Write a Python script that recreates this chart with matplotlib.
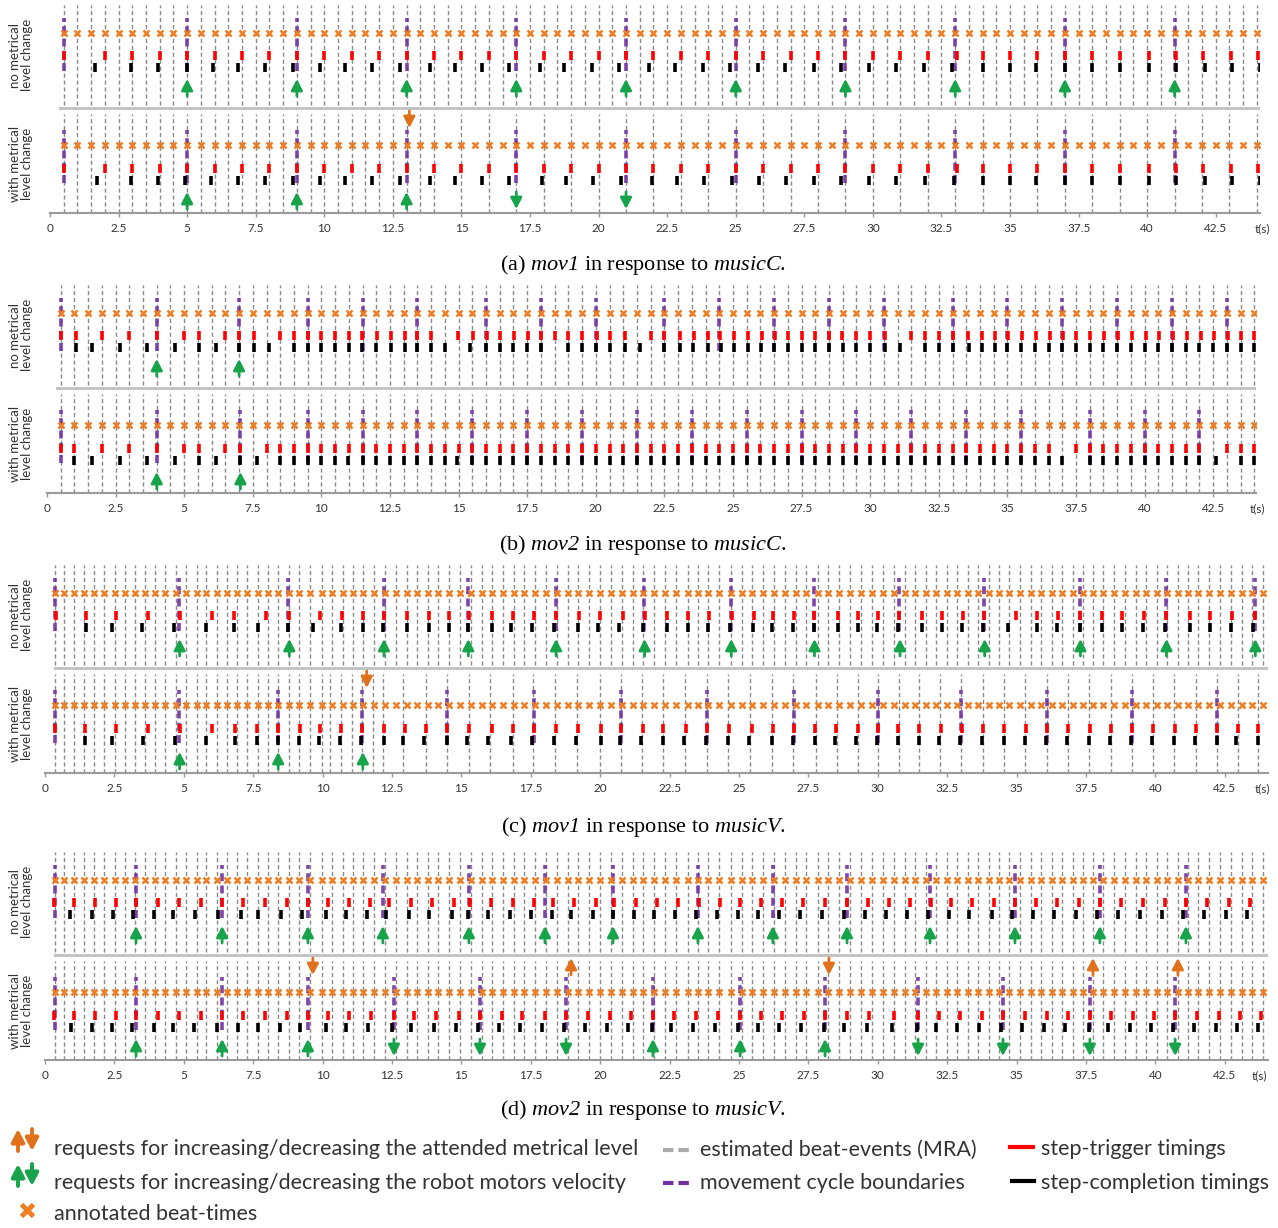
"""Beat tracking / robot stepping timelines for mov1 and mov2 (recreated figure)."""

import matplotlib
matplotlib.use("Agg")
import matplotlib.pyplot as plt

W, H = 1278, 1228
DPI = 100

plt.rcParams["font.family"] = ["Lato", "DejaVu Sans"]
# captions: the $...$ parts (mov1, musicC, ...) are set fully in italic serif
plt.rcParams["mathtext.fontset"] = "custom"
plt.rcParams["mathtext.rm"] = "Liberation Serif:italic"
plt.rcParams["mathtext.it"] = "Liberation Serif:italic"

GRAY = "#8a8a8a"
PURPLE = "#7030a0"
ORANGE_X = "#ef7d22"
ORANGE_ARROW = "#e0701a"
GREEN = "#17a34a"
RED = "#ff0000"
TEXT = "#333333"

TICKS = [0, 2.5, 5, 7.5, 10, 12.5, 15, 17.5, 20, 22.5, 25, 27.5, 30, 32.5, 35, 37.5, 40, 42.5]
TICK_LABELS = ["0", "2.5", "5", "7.5", "10", "12.5", "15", "17.5", "20", "22.5", "25",
               "27.5", "30", "32.5", "35", "37.5", "40", "42.5"]

# ---------------------------------------------------------------- data
# annotated beat-times (orange crosses)
MUSIC_C_BEATS = [0.5, 1.0, 1.5, 2.0, 2.5, 3.0, 3.5, 4.0, 4.5, 5.0, 5.5, 6.0, 6.5, 7.0, 7.5,
                 8.0, 8.5, 9.0, 9.5, 10.0, 10.5, 11.0, 11.5, 12.0, 12.5, 13.0, 13.5, 14.0,
                 14.5, 15.0, 15.5, 16.0, 16.5, 17.0, 17.5, 18.0, 18.5, 19.0, 19.5, 20.0, 20.5,
                 21.0, 21.5, 22.0, 22.5, 23.0, 23.5, 24.0, 24.5, 25.0, 25.5, 26.0, 26.5, 27.0,
                 27.5, 28.0, 28.5, 29.0, 29.5, 30.0, 30.5, 31.0, 31.5, 32.0, 32.5, 33.0, 33.5,
                 34.0, 34.5, 35.0, 35.5, 36.0, 36.5, 37.0, 37.5, 38.0, 38.5, 39.0, 39.5, 40.0,
                 40.5, 41.0, 41.5, 42.0, 42.5, 43.0, 43.5, 44.0]
MUSIC_V_BEATS = [0.36, 0.70, 1.04, 1.40, 1.78, 2.14, 2.52, 2.89, 3.25, 3.61, 3.96, 4.31, 4.71,
                 5.08, 5.46, 5.80, 6.18, 6.54, 6.93, 7.29, 7.68, 8.04, 8.40, 8.79, 9.16, 9.55,
                 9.97, 10.33, 10.72, 11.11, 11.47, 11.86, 12.25, 12.64, 13.03, 13.39, 13.78,
                 14.17, 14.57, 14.95, 15.35, 15.73, 16.09, 16.49, 16.89, 17.27, 17.65, 18.05,
                 18.43, 18.83, 19.21, 19.61, 19.99, 20.39, 20.77, 21.17, 21.55, 21.95, 22.33,
                 22.73, 23.15, 23.54, 23.90, 24.29, 24.70, 25.10, 25.48, 25.88, 26.26, 26.66,
                 27.05, 27.41, 27.86, 28.22, 28.61, 29.00, 29.38, 29.78, 30.18, 30.58, 30.98,
                 31.34, 31.72, 32.10, 32.48, 32.86, 33.24, 33.60, 34.01, 34.38, 34.74, 35.12,
                 35.51, 35.88, 36.26, 36.65, 37.02, 37.38, 37.74, 38.12, 38.51, 38.90, 39.29,
                 39.66, 40.05, 40.43, 40.80, 41.16, 41.55, 41.94, 42.33, 42.71, 43.11, 43.49,
                 43.86]

# (a) mov1 / musicC
A_GRAY_BOT = [0.5, 1.0, 1.5, 2.0, 2.5, 3.0, 3.5, 4.0, 4.5, 5.0, 5.5, 6.0, 6.5, 7.0, 7.5, 8.0,
              8.5, 9.0, 9.5, 10.0, 10.5, 11.0, 11.5, 12.0, 12.5, 13.0, 13.5, 14.0, 15.0, 16.0,
              17.0, 18.0, 19.0, 20.0, 21.0, 22.0, 23.0, 24.0, 25.0, 26.0, 27.0, 28.0, 29.0,
              30.0, 31.0, 32.0, 33.0, 34.0, 35.0, 36.0, 37.0, 38.0, 39.0, 40.0, 41.0, 42.0,
              43.0, 44.0]
A_CYCLES = [0.5, 5.0, 9.0, 13.0, 17.0, 21.0, 25.0, 29.0, 33.0, 37.0, 41.0]
A_TRIG = [0.5, 2.0, 3.0, 4.0, 5.0, 6.0, 7.0, 8.0, 9.0, 10.0, 11.0, 12.0, 13.0, 14.0, 15.0,
          16.0, 17.0, 18.0, 19.0, 20.0, 21.0, 22.0, 23.0, 24.0, 25.0, 26.0, 27.0, 28.0, 29.0,
          30.0, 31.0, 32.0, 33.05, 34.0, 35.0, 36.0, 37.0, 38.0, 39.0, 40.05, 41.05, 42.05,
          43.05, 44.05]
A_DONE_TOP = [1.65, 2.95, 3.95, 5.0, 5.95, 6.85, 7.85, 8.85, 9.85, 10.75, 11.75, 12.75, 13.85,
              14.75, 15.75, 16.75, 17.85, 18.75, 19.75, 20.75, 21.85, 22.8, 23.8, 24.8, 25.8,
              26.8, 27.85, 28.85, 29.85, 30.85, 31.85, 32.9, 34.0, 35.0, 35.95, 37.0, 38.0,
              39.0, 40.05, 41.05, 42.1, 43.1, 44.1]
A_DONE_BOT = [1.7, 2.95, 3.95, 4.93, 5.87, 6.85, 7.85, 8.85, 9.85, 10.75, 11.75, 12.75, 13.85,
              14.75, 15.75, 16.75, 17.95, 18.8, 19.8, 20.8, 21.95, 22.85, 23.85, 24.85, 25.85,
              26.85, 27.85, 28.85, 29.85, 30.85, 31.9, 32.95, 34.0, 35.0, 35.95, 37.0, 38.0,
              39.0, 40.05, 41.05, 42.1, 43.1, 44.1]
A_VEL_UP_TOP = [5.0, 9.0, 13.0, 17.0, 21.0, 25.0, 29.0, 33.0, 37.0, 41.0]
A_VEL_UP_BOT = [5.0, 9.0, 13.0]
A_VEL_DOWN_BOT = [17.0, 21.0]
A_LVL_DOWN_BOT = [13.1]

# (b) mov2 / musicC
B_CYCLES_TOP = [0.5, 4.0, 7.0, 9.5, 11.5, 13.5, 16.0, 18.0, 20.0, 22.5, 24.5, 26.5, 28.5,
                30.5, 33.0, 35.0, 37.0, 39.0, 41.0, 43.0]
B_CYCLES_BOT = [0.5, 4.0, 7.05, 9.5, 11.5, 13.5, 15.5, 17.5, 19.5, 21.5, 23.5, 25.5, 27.5,
                29.5, 31.5, 33.5, 35.5, 38.0, 40.0, 42.0]
B_TRIG_TOP = [0.5, 1.05, 2.0, 3.0, 4.0, 5.0, 5.55, 6.5, 7.0, 7.55, 8.5, 9.0, 9.5, 10.0, 10.5,
              11.0, 11.49, 12.01, 12.52, 13.05, 13.5, 14.0, 14.99, 15.51, 16.02, 16.52, 17.02,
              17.52, 17.99, 18.51, 19.0, 19.5, 20.03, 20.52, 21.06, 22.0, 22.5, 23.07, 23.58,
              24.08, 24.53, 25.05, 25.53, 26.05, 26.53, 27.02, 27.5, 27.99, 28.5, 28.98, 29.48,
              29.99, 30.54, 31.49, 32.0, 32.51, 33.03, 33.58, 34.06, 34.55, 35.03, 35.54, 36.04,
              36.55, 37.01, 37.5, 38.01, 38.52, 39.02, 39.53, 40.04, 40.53, 41.02, 41.53,
              42.04, 42.54, 43.03, 43.51, 43.99]
B_DONE_TOP = [1.05, 1.65, 2.65, 3.65, 4.65, 5.55, 6.15, 7.0, 7.55, 8.1, 9.0, 9.5, 10.0, 10.5,
              11.0, 11.49, 12.0, 12.52, 13.05, 13.5, 14.0, 14.5, 15.4, 15.99, 16.52, 17.0,
              17.5, 18.0, 19.0, 19.5, 20.0, 20.5, 21.05, 21.6, 22.5, 23.07, 23.55, 24.08,
              24.55, 25.05, 25.53, 26.03, 26.5, 27.02, 27.5, 28.0, 28.5, 29.0, 29.5, 30.0,
              30.54, 31.1, 32.0, 32.5, 33.0, 33.6, 34.06, 34.55, 35.0, 35.5, 36.0, 36.5, 37.0,
              37.5, 38.0, 38.5, 39.0, 39.5, 40.0, 40.5, 41.0, 41.5, 42.0, 42.5, 43.0, 43.5, 44.0]
B_TRIG_BOT = [0.5, 1.0, 2.0, 3.0, 4.0, 5.0, 5.55, 6.5, 7.05, 8.0, 8.5, 9.0, 9.5, 10.0, 10.5,
              11.0, 11.5, 12.0, 12.5, 13.0, 13.47, 14.0, 14.5, 15.0, 15.5, 16.0, 16.5, 17.0,
              17.5, 18.0, 18.5, 19.0, 19.5, 20.0, 20.5, 21.0, 21.5, 22.0, 22.5, 23.0, 23.5,
              24.0, 24.5, 25.0, 25.5, 26.0, 26.5, 27.0, 27.5, 28.0, 28.5, 29.0, 29.5, 30.0,
              30.5, 31.0, 31.5, 32.0, 32.5, 33.0, 33.5, 34.0, 34.5, 35.0, 35.5, 36.0, 36.5,
              37.5, 38.0, 38.5, 39.0, 39.5, 40.0, 40.5, 41.0, 41.5, 42.0, 43.0, 43.5, 44.0]
B_DONE_BOT = [1.0, 1.65, 2.65, 3.65, 4.65, 5.55, 6.15, 7.05, 7.65, 8.5, 9.0, 9.5, 10.0, 10.5,
              10.96, 11.5, 12.0, 12.5, 13.0, 13.5, 14.0, 14.5, 14.95, 15.5, 16.0, 16.5, 17.0,
              17.5, 18.0, 18.5, 19.0, 19.5, 20.0, 20.5, 21.0, 21.5, 22.0, 22.5, 23.0, 23.5,
              24.0, 24.5, 25.0, 25.5, 26.0, 26.5, 27.0, 27.5, 28.0, 28.5, 29.0, 29.5, 30.0,
              30.5, 31.0, 31.5, 32.0, 32.5, 33.0, 33.5, 34.0, 34.5, 35.0, 35.5, 36.0, 36.5,
              37.0, 38.0, 38.5, 39.0, 39.5, 40.0, 40.5, 41.0, 41.5, 42.0, 42.6, 43.5, 44.0]
B_VEL_UP_TOP = [4.0, 7.0]
B_VEL_UP_BOT = [4.0, 7.05]

# (c) mov1 / musicV
C_GRAY_BOT = [0.36, 0.70, 1.04, 1.40, 1.78, 2.14, 2.52, 2.89, 3.25, 3.61, 3.96, 4.31, 4.71,
              5.08, 5.46, 5.80, 6.18, 6.54, 6.93, 7.29, 7.68, 8.04, 8.40, 8.79, 9.16, 9.55,
              9.97, 10.27, 10.65, 11.05, 11.43, 11.83, 12.19, 12.91, 13.72, 14.47, 15.27,
              16.03, 16.85, 17.59, 18.37, 19.15, 19.99, 20.75, 21.49, 22.27, 23.05, 23.84,
              24.62, 25.40, 26.18, 26.96, 27.76, 28.52, 29.27, 30.02, 30.78, 31.50, 32.24,
              33.00, 33.78, 34.56, 35.30, 36.08, 36.84, 37.62, 38.39, 39.15, 39.90, 40.67,
              41.46, 42.21, 42.96, 43.71]
C_CYCLES_TOP = [0.36, 4.83, 8.75, 12.21, 15.23, 18.41, 21.58, 24.7, 27.7, 30.78, 33.83, 37.28,
                40.38, 43.59]
C_CYCLES_BOT = [0.36, 4.83, 8.38, 11.43, 14.49, 17.6, 20.75, 23.84, 26.97, 30.02, 33.0, 36.08,
                39.15, 42.21]
C_TRIG_TOP = [0.4, 1.48, 2.56, 3.7, 4.86, 6.03, 6.81, 7.95, 8.79, 9.9, 10.69, 11.44, 12.21,
              13.03, 13.83, 14.55, 15.27, 16.09, 16.85, 17.63, 18.41, 19.24, 19.99, 20.81,
              21.61, 22.4, 23.17, 23.93, 24.76, 25.54, 26.24, 26.98, 27.71, 28.55, 29.28,
              30.02, 30.78, 31.59, 32.3, 33.06, 33.84, 34.97, 35.72, 36.48, 37.28, 38.09,
              38.81, 39.59, 40.38, 41.25, 41.97, 42.77, 43.59]
C_DONE_TOP = [1.48, 2.4, 3.48, 4.65, 5.8, 6.81, 7.66, 8.74, 9.67, 10.67, 11.44, 12.19, 13.03,
              13.83, 14.55, 15.25, 16.1, 16.78, 17.55, 18.35, 19.2, 19.93, 20.69, 21.55, 22.4,
              23.15, 23.9, 24.66, 25.51, 26.2, 26.93, 27.7, 28.55, 29.28, 29.98, 30.74, 31.59,
              32.3, 33.03, 33.8, 34.68, 35.72, 36.47, 37.28, 38.09, 38.81, 39.54, 40.34, 41.25,
              41.95, 42.73, 43.52]
C_TRIG_BOT = [0.36, 1.44, 2.56, 3.7, 4.86, 6.03, 6.85, 7.62, 8.4, 9.18, 9.9, 10.67, 11.43,
              12.22, 12.96, 13.72, 14.49, 15.27, 16.09, 16.87, 17.63, 18.41, 19.19, 20.03,
              20.75, 21.53, 22.28, 23.08, 23.84, 24.65, 25.47, 26.24, 26.98, 27.75, 28.5,
              29.28, 30.02, 30.74, 31.5, 32.28, 33.03, 33.78, 34.56, 35.34, 36.08, 36.86,
              37.64, 38.39, 39.16, 39.92, 40.7, 41.45, 42.21, 42.96, 43.71]
C_DONE_BOT = [1.44, 2.4, 3.54, 4.68, 5.8, 6.85, 7.62, 8.4, 9.16, 9.87, 10.64, 11.39, 12.22,
              12.9, 13.66, 14.47, 15.19, 15.97, 16.78, 17.56, 18.35, 19.12, 20.02, 20.72,
              21.47, 22.25, 23.03, 23.81, 24.6, 25.37, 26.2, 26.96, 27.72, 28.47, 29.23, 29.98,
              30.74, 31.5, 32.2, 32.96, 33.74, 34.54, 35.3, 36.05, 36.83, 37.6, 38.35, 39.11,
              39.89, 40.67, 41.42, 42.21, 42.91, 43.69]
C_VEL_UP_TOP = [4.85, 8.8, 12.21, 15.25, 18.41, 21.6, 24.72, 27.72, 30.8, 33.85, 37.3, 40.4,
                43.6]
C_VEL_UP_BOT = [4.85, 8.4, 11.45]
C_LVL_DOWN_BOT = [11.59]

# (d) mov2 / musicV
D_CYCLES_TOP = [0.36, 3.28, 6.38, 9.47, 12.17, 15.27, 18.01, 20.46, 23.52, 26.22, 28.89,
                31.88, 34.94, 38.0, 41.1]
D_CYCLES_BOT = [0.36, 3.28, 6.38, 9.47, 12.57, 15.67, 18.77, 21.9, 25.04, 28.1, 31.45, 34.51,
                37.64, 40.71]
D_TRIG_TOP = [0.33, 1.04, 1.8, 2.56, 3.28, 4.06, 4.83, 5.62, 6.36, 7.15, 7.93, 8.71, 9.49,
              10.2, 10.95, 11.7, 12.4, 13.2, 13.95, 14.75, 15.3, 16.05, 16.85, 17.6, 18.3,
              19.05, 19.85, 20.5, 21.3, 22.05, 22.8, 23.55, 24.3, 25.05, 25.8, 26.55, 27.3,
              28.1, 28.9, 29.65, 30.4, 31.15, 31.9, 32.65, 33.4, 34.2, 34.95, 35.7, 36.45,
              37.25, 38.0, 38.75, 39.55, 40.35, 41.1, 41.85, 42.65, 43.4]
D_DONE_TOP = [0.9, 1.68, 2.44, 3.18, 3.94, 4.62, 5.4, 6.22, 7.05, 7.66, 8.5, 9.25, 10.11,
              10.85, 11.6, 12.3, 13.1, 13.85, 14.65, 15.25, 15.95, 16.75, 17.5, 18.25, 18.95,
              19.75, 20.45, 21.2, 21.95, 22.7, 23.45, 24.2, 24.95, 25.7, 26.45, 27.2, 28.0,
              28.8, 29.55, 30.3, 31.05, 31.8, 32.55, 33.3, 34.1, 34.85, 35.6, 36.35, 37.15,
              37.9, 38.65, 39.45, 40.25, 41.0, 41.75, 42.55, 43.3]
D_TRIG_BOT = [0.33, 1.04, 1.8, 2.56, 3.28, 4.06, 4.83, 5.62, 6.36, 7.15, 7.93, 8.71, 9.49,
              10.2, 10.95, 11.75, 12.57, 13.3, 14.1, 14.9, 15.67, 16.45, 17.2, 18.0, 18.77,
              19.55, 20.35, 21.1, 21.9, 22.65, 23.45, 24.25, 25.04, 25.8, 26.55, 27.35, 28.1,
              28.9, 29.7, 30.6, 31.45, 32.2, 32.95, 33.75, 34.51, 35.3, 36.1, 36.85, 37.64,
              38.4, 39.2, 39.95, 40.71, 41.5, 42.3, 43.05, 43.8]
D_DONE_BOT = [0.94, 1.68, 2.4, 3.12, 3.94, 4.62, 5.37, 6.2, 6.95, 7.66, 8.45, 9.2, 10.11,
              10.85, 11.65, 12.5, 13.2, 14.0, 14.8, 15.6, 16.35, 17.1, 17.9, 18.7, 19.45,
              20.25, 21.0, 21.85, 22.55, 23.35, 24.15, 24.95, 25.7, 26.45, 27.25, 28.05, 28.8,
              29.6, 30.5, 31.4, 32.1, 32.85, 33.65, 34.45, 35.2, 36.0, 36.75, 37.6, 38.3,
              39.1, 39.85, 40.65, 41.4, 42.2, 42.95, 43.7]
D_VEL_UP_TOP = [3.28, 6.38, 9.47, 12.17, 15.27, 18.01, 20.46, 23.52, 26.22, 28.89, 31.88,
                34.94, 38.0, 41.1]
D_VEL_UP_BOT = [3.28, 6.38, 9.47, 21.9, 25.04, 28.1]
D_VEL_DOWN_BOT = [12.57, 15.67, 18.77, 31.45, 34.51, 37.64, 40.71]
D_LVL_UP_BOT = [18.95, 37.75, 40.81]
D_LVL_DOWN_BOT = [9.65, 28.24]

CAPTIONS = [r"(a) $mov1$ in response to $musicC$.",
            r"(b) $mov2$ in response to $musicC$.",
            r"(c) $mov1$ in response to $musicV$.",
            r"(d) $mov2$ in response to $musicV$."]
ROW_LABELS = ["no metrical\nlevel change", "with metrical\nlevel change"]
LEGEND_LEFT = ["requests for increasing/decreasing the attended metrical level",
               "requests for increasing/decreasing the robot motors velocity",
               "annotated beat-times"]
LEGEND_MID = ["estimated beat-events (MRA)", "movement cycle boundaries"]
LEGEND_RIGHT = ["step-trigger timings", "step-completion timings"]

# ---------------------------------------------------------------- layout (pixels)
# vertical positions inside a panel, measured upward from the time axis
BOT = dict(gray=(0, 99), cycle=(30, 83), beat=68, trig=(40, 49), done=(28, 37),
           vel=(4, 21), lvl=(85, 102))
TOP = dict(gray=(108, 208), cycle=(142, 195), beat=180, trig=(153, 162), done=(141, 150),
           vel=(117, 134), lvl=(198, 214))
SEP_Y = 105
PANEL_H = 208

# left pixel, px per second, bottom (axis) pixel, x-max, caption y, t(s) x
PANELS = [dict(left=50, scale=27.43, axis=213, xmax=44.1, cap=265, tlab=1262),
          dict(left=47, scale=27.44, axis=493, xmax=44.05, cap=545, tlab=1257),
          dict(left=45, scale=27.76, axis=773, xmax=44.05, cap=827, tlab=1262),
          dict(left=45, scale=27.76, axis=1060, xmax=44.05, cap=1110, tlab=1259)]

ARROW_STYLE = "-|>,head_length=0.5,head_width=0.26"


def arrow(ax, x, span, color, up=True, lw=2.0, scale=13):
    y0, y1 = span if up else span[::-1]
    ax.annotate("", xy=(x, y1), xytext=(x, y0),
                arrowprops=dict(arrowstyle=ARROW_STYLE, color=color, lw=lw,
                                shrinkA=0, shrinkB=0, mutation_scale=scale),
                annotation_clip=False)


def draw_row(ax, lay, gray, beats, cycles, trig, done,
             vel_up=(), vel_down=(), lvl_up=(), lvl_down=()):
    ax.vlines(gray, *lay["gray"], colors=GRAY, linestyles=(0, (3, 2)), lw=1.0, zorder=1)
    ax.vlines(cycles, *lay["cycle"], colors=PURPLE, linestyles=(0, (2.2, 1.2)), lw=2.6,
              alpha=0.9, zorder=2)
    ax.vlines(trig, *lay["trig"], colors=RED, lw=2.6, zorder=3)
    ax.vlines(done, *lay["done"], colors="black", lw=2.6, zorder=3)
    ax.plot(beats, [lay["beat"]] * len(beats), ls="none", marker="x", ms=4.5, mew=1.8,
            color=ORANGE_X, zorder=4)
    for x in vel_up:
        arrow(ax, x, lay["vel"], GREEN, up=True)
    for x in vel_down:
        arrow(ax, x, lay["vel"], GREEN, up=False)
    for x in lvl_up:
        arrow(ax, x, lay["lvl"], ORANGE_ARROW, up=True)
    for x in lvl_down:
        arrow(ax, x, lay["lvl"], ORANGE_ARROW, up=False)


def make_panel(fig, spec):
    width = spec["xmax"] * spec["scale"]
    ax = fig.add_axes([spec["left"] / W, (H - spec["axis"]) / H, width / W, PANEL_H / H])
    ax.set_xlim(0, spec["xmax"])
    ax.set_ylim(0, PANEL_H)
    ax.patch.set_alpha(0)
    for side in ("top", "left", "right"):
        ax.spines[side].set_visible(False)
    ax.spines["bottom"].set_color("#9a9a9a")
    ax.spines["bottom"].set_linewidth(1.5)
    ax.set_yticks([])
    ax.set_xticks(TICKS)
    ax.set_xticklabels(TICK_LABELS)
    ax.tick_params(axis="x", length=3, width=1, color="#9a9a9a", labelsize=8.5,
                   labelcolor=TEXT, pad=4)
    ax.axhline(SEP_Y, xmin=0.008, xmax=1.0, color="#c4c4c4", lw=2.2)
    return ax


fig = plt.figure(figsize=(W / DPI, H / DPI), dpi=DPI)

rows = [
    (dict(gray=MUSIC_C_BEATS, beats=MUSIC_C_BEATS, cycles=A_CYCLES, trig=A_TRIG, done=A_DONE_TOP,
          vel_up=A_VEL_UP_TOP),
     dict(gray=A_GRAY_BOT, beats=MUSIC_C_BEATS, cycles=A_CYCLES, trig=A_TRIG, done=A_DONE_BOT,
          vel_up=A_VEL_UP_BOT, vel_down=A_VEL_DOWN_BOT, lvl_down=A_LVL_DOWN_BOT)),
    (dict(gray=MUSIC_C_BEATS, beats=MUSIC_C_BEATS, cycles=B_CYCLES_TOP, trig=B_TRIG_TOP,
          done=B_DONE_TOP, vel_up=B_VEL_UP_TOP),
     dict(gray=MUSIC_C_BEATS, beats=MUSIC_C_BEATS, cycles=B_CYCLES_BOT, trig=B_TRIG_BOT,
          done=B_DONE_BOT, vel_up=B_VEL_UP_BOT)),
    (dict(gray=MUSIC_V_BEATS, beats=MUSIC_V_BEATS, cycles=C_CYCLES_TOP, trig=C_TRIG_TOP,
          done=C_DONE_TOP, vel_up=C_VEL_UP_TOP),
     dict(gray=C_GRAY_BOT, beats=MUSIC_V_BEATS, cycles=C_CYCLES_BOT, trig=C_TRIG_BOT,
          done=C_DONE_BOT, vel_up=C_VEL_UP_BOT, lvl_down=C_LVL_DOWN_BOT)),
    (dict(gray=MUSIC_V_BEATS, beats=MUSIC_V_BEATS, cycles=D_CYCLES_TOP, trig=D_TRIG_TOP,
          done=D_DONE_TOP, vel_up=D_VEL_UP_TOP),
     dict(gray=MUSIC_V_BEATS, beats=MUSIC_V_BEATS, cycles=D_CYCLES_BOT, trig=D_TRIG_BOT,
          done=D_DONE_BOT, vel_up=D_VEL_UP_BOT, vel_down=D_VEL_DOWN_BOT,
          lvl_up=D_LVL_UP_BOT, lvl_down=D_LVL_DOWN_BOT)),
]

# overlay in pixel coordinates for captions, row labels and legend
ov = fig.add_axes([0, 0, 1, 1])
ov.set_xlim(0, W)
ov.set_ylim(H, 0)
ov.axis("off")
ov.patch.set_alpha(0)

for spec, (top, bot), caption in zip(PANELS, rows, CAPTIONS):
    ax = make_panel(fig, spec)
    draw_row(ax, TOP, **top)
    draw_row(ax, BOT, **bot)
    ax.text(spec["tlab"], spec["axis"] + 16, "t(s)", transform=ov.transData, ha="center",
            va="center", fontsize=8.5, color=TEXT)
    ov.text(643, spec["cap"], caption, ha="center", va="center", fontsize=16,
            family="Liberation Serif", color="black")
    top_mid = spec["axis"] - (TOP["gray"][0] + TOP["gray"][1]) / 2
    bot_mid = spec["axis"] - (BOT["gray"][0] + BOT["gray"][1]) / 2
    for y, label in zip((top_mid, bot_mid), ROW_LABELS):
        ov.text(21, y, label, rotation=90, ha="center", va="center", fontsize=9.5,
                color=TEXT, linespacing=0.95, multialignment="center")

# legend
arrow(ov, 18, (1151, 1129), ORANGE_ARROW, lw=2.8, scale=15)
arrow(ov, 32, (1129, 1151), ORANGE_ARROW, lw=2.8, scale=15)
arrow(ov, 18, (1186, 1164), GREEN, lw=2.8, scale=15)
arrow(ov, 32, (1164, 1186), GREEN, lw=2.8, scale=15)
ov.plot([27], [1210], ls="none", marker="x", ms=9, mew=3.5, color=ORANGE_X)
for y, label in zip((1149, 1183, 1214), LEGEND_LEFT):
    ov.text(54, y, label, ha="left", va="center", fontsize=15.5, color=TEXT)
ov.plot([663, 691], [1150, 1150], color="#aaaaaa", lw=3, ls=(0, (2.5, 1.2)))
ov.plot([663, 691], [1183, 1183], color=PURPLE, lw=3, ls=(0, (2.5, 1.2)))
for y, label in zip((1150, 1183), LEGEND_MID):
    ov.text(700, y, label, ha="left", va="center", fontsize=15.5, color=TEXT)
ov.plot([1010, 1033], [1147, 1147], color=RED, lw=3)
ov.plot([1012, 1034], [1181, 1181], color="black", lw=3)
for y, label in zip((1149, 1183), LEGEND_RIGHT):
    ov.text(1041, y, label, ha="left", va="center", fontsize=15.5, color=TEXT)

fig.savefig("out.png", dpi=DPI)
